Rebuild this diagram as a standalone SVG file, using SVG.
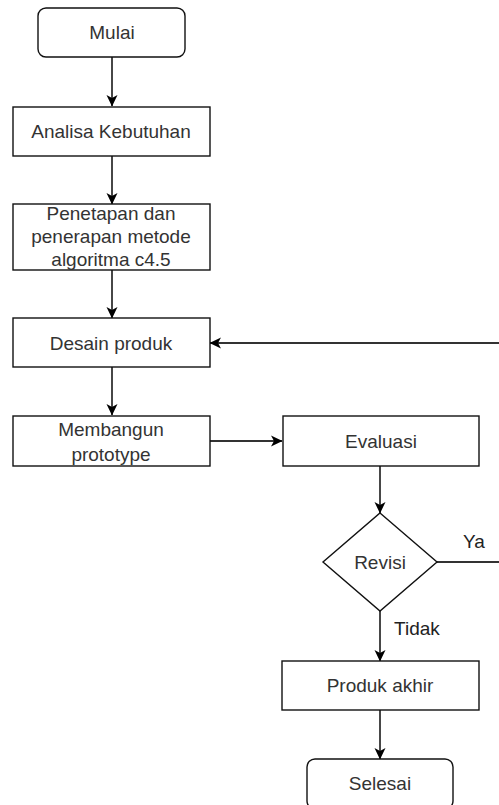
<svg xmlns="http://www.w3.org/2000/svg" width="499" height="805" viewBox="0 0 499 805">
<style>
  .box{fill:#fff;stroke:#111;stroke-width:1.4}
  .lbl{font-family:"Liberation Sans",Arial,sans-serif;font-size:19px;fill:#333;text-anchor:middle;dominant-baseline:central}
  .edge{fill:none;stroke:#333;stroke-width:1.8}
  .elbl{font-family:"Liberation Sans",Arial,sans-serif;font-size:19px;fill:#222;text-anchor:middle;dominant-baseline:central}
</style>
<defs>
  <marker id="arr" markerUnits="userSpaceOnUse" markerWidth="12" markerHeight="12" viewBox="0 0 12 12" refX="11" refY="6" orient="auto">
    <path d="M0,0.5 L11.5,6 L0,11.5 L3,6 z" fill="#000"/>
  </marker>
</defs>
<rect width="499" height="805" fill="#fff"/>
<g id="connectors">
  <path class="edge" d="M112,57 L112,106" marker-end="url(#arr)"/>
  <path class="edge" d="M112,156 L112,204" marker-end="url(#arr)"/>
  <path class="edge" d="M112,270 L112,318" marker-end="url(#arr)"/>
  <path class="edge" d="M112,367 L112,415" marker-end="url(#arr)"/>
  <path class="edge" d="M210,441 L282,441" marker-end="url(#arr)"/>
  <path class="edge" d="M380,466 L380,513" marker-end="url(#arr)"/>
  <path class="edge" d="M437,562 L499,562"/>
  <path class="edge" d="M499,343 L210,343" marker-end="url(#arr)"/>
  <path class="edge" d="M380,611 L380,661" marker-end="url(#arr)"/>
  <path class="edge" d="M380,710 L380,759" marker-end="url(#arr)"/>
  <text class="elbl" x="474" y="541">Ya</text>
  <text class="elbl" x="417" y="628">Tidak</text>
</g>
<g id="mulai">
  <rect class="box" x="38" y="8" width="147" height="49" rx="8"/>
  <text class="lbl" x="112" y="32">Mulai</text>
</g>
<g id="analisa">
  <rect class="box" x="13" y="107" width="197" height="49"/>
  <text class="lbl" x="111" y="131">Analisa Kebutuhan</text>
</g>
<g id="penetapan">
  <rect class="box" x="13" y="204" width="197" height="66"/>
  <text class="lbl" x="111" y="213">Penetapan dan</text>
  <text class="lbl" x="111" y="236">penerapan metode</text>
  <text class="lbl" x="111" y="259">algoritma c4.5</text>
</g>
<g id="desain">
  <rect class="box" x="13" y="318" width="197" height="49"/>
  <text class="lbl" x="111" y="343">Desain produk</text>
</g>
<g id="membangun">
  <rect class="box" x="13" y="416" width="197" height="50"/>
  <text class="lbl" x="111" y="429">Membangun</text>
  <text class="lbl" x="111" y="454">prototype</text>
</g>
<g id="evaluasi">
  <rect class="box" x="283" y="416" width="196" height="50"/>
  <text class="lbl" x="381" y="441">Evaluasi</text>
</g>
<g id="revisi">
  <polygon class="box" points="380,513 437,562 380,611 323,562"/>
  <text class="lbl" x="380" y="562">Revisi</text>
</g>
<g id="produk-akhir">
  <rect class="box" x="282" y="661" width="197" height="49"/>
  <text class="lbl" x="380" y="685">Produk akhir</text>
</g>
<g id="selesai">
  <rect class="box" x="307" y="759" width="146" height="50" rx="8"/>
  <text class="lbl" x="380" y="783">Selesai</text>
</g>
</svg>
